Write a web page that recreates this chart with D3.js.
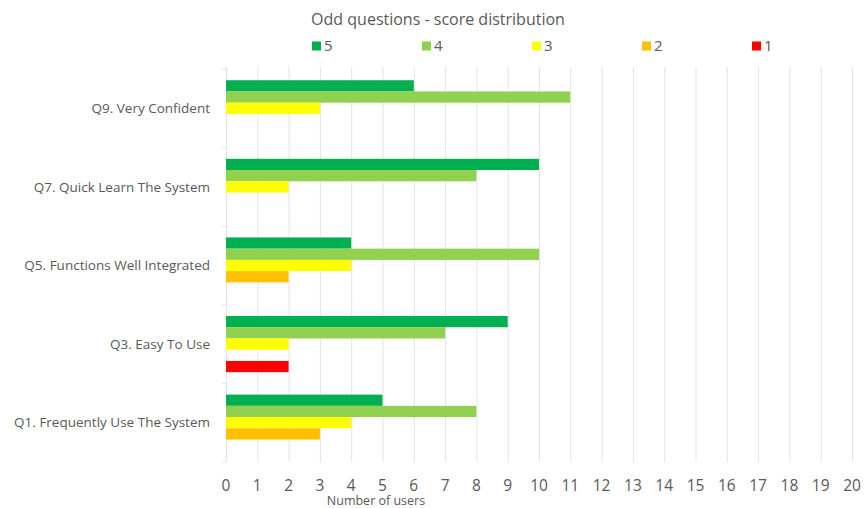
<!DOCTYPE html>
<html lang="en">
  <head>
    <meta charset="utf-8">
    <title>Odd questions - score distribution</title>
    <script src="https://d3js.org/d3.v7.min.js"></script>
    <style>
      body { margin: 0; background: white; overflow: hidden; }
      svg { display: block; }
      text { font-family: "Open Sans", sans-serif; fill: #595959; }
    </style>
  </head>
  <body>
    <script type="text/javascript">

      var w = 865;
      var h = 508;
      var margin = {top: 69, right: 13, bottom: 46, left: 226};
      var innerWidth = w - margin.left - margin.right;
      var innerHeight = h - margin.top - margin.bottom;

      // categories top to bottom
      var questions = ["Q9. Very Confident", "Q7. Quick Learn The System",
                       "Q5. Functions Well Integrated", "Q3. Easy To Use",
                       "Q1. Frequently Use The System"];
      var scores = ["5", "4", "3", "2", "1"];
      var colors = ["#00b050", "#92d050", "#ffff00", "#ffc000", "#ff0000"];

      // number of users per score, in the order of questions
      var score5 = [6, 10, 4, 9, 5];
      var score4 = [11, 8, 10, 7, 8];
      var score3 = [3, 2, 4, 2, 4];
      var score2 = [0, 0, 2, 0, 3];
      var score1 = [0, 0, 0, 2, 0];
      var xTicks = d3.range(0, 21);

      var series = [score5, score4, score3, score2, score1];
      var data = [];
      questions.forEach(function(q, i) {
        scores.forEach(function(s, j) {
          data.push({q: q, score: s, value: series[j][i], color: colors[j]});
        });
      });

      var svg = d3.select("body")
          .append("svg")
          .attr("width", w)
          .attr("height", h);

      svg.append("rect")
          .attr("width", w)
          .attr("height", h)
          .attr("fill", "white");

      var xScale = d3.scaleLinear()
          .domain([0, 20])
          .range([0, innerWidth]);

      var yScale = d3.scaleBand()
          .domain(questions)
          .range([0, innerHeight]);

      var inner = d3.scaleBand()
          .domain(scores)
          .range([0, yScale.bandwidth()])
          .paddingOuter(1)
          .paddingInner(0);

      var g = svg.append("g")
          .attr("transform", `translate(${margin.left}, ${margin.top})`);

// gridlines
      g.selectAll("line.grid")
          .data(xTicks)
          .enter().append("line")
          .attr("class", "grid")
          .attr("x1", function(d) { return xScale(d) + 0.5 })
          .attr("x2", function(d) { return xScale(d) + 0.5 })
          .attr("y1", -2)
          .attr("y2", innerHeight)
          .style("stroke", "#e3e3e3")
          .style("stroke-width", "1px");

// category axis ticks
      g.selectAll("line.ytick")
          .data(d3.range(questions.length + 1))
          .enter().append("line")
          .attr("class", "ytick")
          .attr("x1", -4)
          .attr("x2", 0)
          .attr("y1", function(d) { return d * yScale.step() })
          .attr("y2", function(d) { return d * yScale.step() })
          .style("stroke", "#e3e3e3");

// bars
      g.selectAll("rect.bar")
          .data(data)
          .enter().append("rect")
          .attr("class", "bar")
          .attr("x", xScale(0))
          .attr("y", function(d) { return yScale(d.q) + inner(d.score) })
          .attr("width", function(d) { return xScale(d.value) - xScale(0) })
          .attr("height", inner.bandwidth())
          .attr("fill", function(d) { return d.color });

// category labels
      g.selectAll("text.qlabel")
          .data(questions)
          .enter().append("text")
          .attr("class", "qlabel")
          .attr("x", -16)
          .attr("y", function(d) { return yScale(d) + yScale.bandwidth() / 2 })
          .attr("dy", "0.35em")
          .attr("text-anchor", "end")
          .style("font-size", "13.5px")
          .text(function(d) { return d });

// x tick labels
      g.selectAll("text.xlabel")
          .data(xTicks)
          .enter().append("text")
          .attr("class", "xlabel")
          .attr("x", function(d) { return xScale(d) })
          .attr("y", innerHeight + 24)
          .attr("dy", "0.35em")
          .attr("text-anchor", "middle")
          .style("font-size", "15.5px")
          .text(function(d) { return d });

      svg.append("text")
          .attr("x", 376)
          .attr("y", 501)
          .attr("dy", "0.35em")
          .attr("text-anchor", "middle")
          .style("font-size", "12.5px")
          .text("Number of users");

      svg.append("text")
          .attr("x", 438)
          .attr("y", 19)
          .attr("dy", "0.35em")
          .attr("text-anchor", "middle")
          .style("font-size", "16px")
          .text("Odd questions - score distribution");

// legend
      var legend = svg.selectAll("g.legend")
          .data(scores)
          .enter().append("g")
          .attr("class", "legend")
          .attr("transform", function(d, i) { return `translate(${312 + i * 110}, 46)` });

      legend.append("rect")
          .attr("x", 0)
          .attr("y", -4.5)
          .attr("width", 9)
          .attr("height", 9)
          .attr("fill", function(d, i) { return colors[i] });

      legend.append("text")
          .attr("x", 12)
          .attr("y", 0)
          .attr("dy", "0.35em")
          .style("font-size", "15px")
          .text(function(d) { return d });

    </script>
  </body>
</html>
